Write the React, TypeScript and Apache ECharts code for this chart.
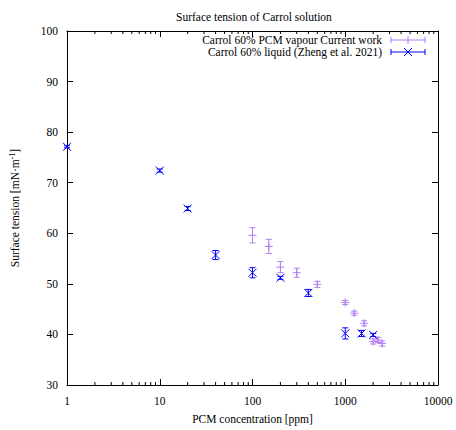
import React, { useEffect, useRef } from "react";
import * as echarts from "echarts";

const vapourX = [100, 150, 200, 300, 500, 1000, 1250, 1600, 2000, 2250, 2500];
const vapourY = [59.6, 57.4, 53.3, 52.2, 49.9, 46.3, 44.2, 42.2, 38.6, 38.9, 38.2];
const vapourErr = [1.5, 1.4, 1.1, 0.9, 0.6, 0.4, 0.4, 0.5, 0.5, 0.5, 0.5];

const liquidX = [1, 10, 20, 40, 100, 200, 400, 1000, 1500, 2000];
const liquidY = [77.1, 72.4, 64.9, 55.7, 52.2, 51.2, 48.2, 40.2, 40.2, 39.9];
const liquidErr = [0.2, 0.3, 0.4, 0.9, 1.0, 0.3, 0.7, 1.1, 0.6, 0.3];

const minorTicksX = [2, 3, 4, 5, 6, 7, 8, 9, 20, 30, 40, 50, 60, 70, 80, 90, 200, 300, 400, 500, 600, 700, 800, 900, 2000, 3000, 4000, 5000, 6000, 7000, 8000, 9000];

const seriesNames = ["Carrol 60% PCM vapour Current work", "Carrol 60% liquid (Zheng et al. 2021)"];
const titleText = "Surface tension of Carrol solution";
const xName = "PCM concentration [ppm]";

const PURPLE = "#b07cf8";
const BLUE = "#0000ff";
const FONT = "Liberation Serif";
const FS = 11.5;

function errRender(color: string, marker: "plus" | "cross") {
  return (params: any, api: any) => {
    const x = api.value(0);
    const y = api.value(1);
    const e = api.value(2);
    const c = api.coord([x, y]);
    const t = api.coord([x, y + e]);
    const b = api.coord([x, y - e]);
    const cap = 3;
    const s = 4;
    const style = { stroke: color, lineWidth: 1 };
    const children: any[] = [
      { type: "line", shape: { x1: c[0], y1: t[1], x2: c[0], y2: b[1] }, style },
      { type: "line", shape: { x1: c[0] - cap, y1: t[1], x2: c[0] + cap, y2: t[1] }, style },
      { type: "line", shape: { x1: c[0] - cap, y1: b[1], x2: c[0] + cap, y2: b[1] }, style },
    ];
    if (marker === "plus") {
      children.push({ type: "line", shape: { x1: c[0] - s, y1: c[1], x2: c[0] + s, y2: c[1] }, style });
      children.push({ type: "line", shape: { x1: c[0], y1: c[1] - s, x2: c[0], y2: c[1] + s }, style });
    } else {
      children.push({ type: "line", shape: { x1: c[0] - s, y1: c[1] - s, x2: c[0] + s, y2: c[1] + s }, style });
      children.push({ type: "line", shape: { x1: c[0] - s, y1: c[1] + s, x2: c[0] + s, y2: c[1] - s }, style });
    }
    return { type: "group", children };
  };
}

export default function App() {
  const ref = useRef<HTMLDivElement>(null);
  useEffect(() => {
    if (!ref.current) return;
    const chart = echarts.init(ref.current, null, { renderer: "svg" });
    const axisLabelStyle = { fontFamily: FONT, fontSize: FS, color: "#000" };
    const legendY = [40, 52];
    const legendColors = [PURPLE, BLUE];
    const graphic: any[] = [];
    seriesNames.forEach((name, i) => {
      const y = legendY[i];
      const col = legendColors[i];
      graphic.push({
        type: "text",
        x: 382,
        y,
        style: { text: name, fontFamily: FONT, fontSize: FS, fill: "#000", textAlign: "right", textVerticalAlign: "middle" },
      });
      graphic.push({ type: "line", shape: { x1: 391, y1: y, x2: 425, y2: y }, style: { stroke: col, lineWidth: 1 } });
      graphic.push({ type: "line", shape: { x1: 391, y1: y - 3, x2: 391, y2: y + 3 }, style: { stroke: col, lineWidth: 1 } });
      graphic.push({ type: "line", shape: { x1: 425, y1: y - 3, x2: 425, y2: y + 3 }, style: { stroke: col, lineWidth: 1 } });
      if (i === 0) {
        graphic.push({ type: "line", shape: { x1: 408, y1: y - 4, x2: 408, y2: y + 4 }, style: { stroke: col, lineWidth: 1 } });
      } else {
        graphic.push({ type: "line", shape: { x1: 404, y1: y - 4, x2: 412, y2: y + 4 }, style: { stroke: col, lineWidth: 1 } });
        graphic.push({ type: "line", shape: { x1: 404, y1: y + 4, x2: 412, y2: y - 4 }, style: { stroke: col, lineWidth: 1 } });
      }
    });

    chart.setOption({
      animation: false,
      backgroundColor: "#fff",
      title: {
        text: titleText,
        left: 171,
        top: 6,
        textStyle: { fontFamily: FONT, fontSize: FS, fontWeight: "normal", color: "#000" },
      },
      grid: { left: 66, right: 18, top: 31, bottom: 41 },
      xAxis: [
        {
          type: "log",
          logBase: 10,
          min: 1,
          max: 10000,
          name: xName,
          nameLocation: "middle",
          nameGap: 28,
          nameTextStyle: { fontFamily: FONT, fontSize: FS, color: "#000" },
          axisLine: { show: true, lineStyle: { color: "#000", width: 1 } },
          axisTick: { show: true, inside: true, length: 6, lineStyle: { color: "#000" } },
          axisLabel: { ...axisLabelStyle, margin: 10, formatter: (v: number) => String(Math.round(v)) },
          splitLine: { show: false },
        },
        {
          type: "log",
          logBase: 10,
          min: 1,
          max: 10000,
          position: "top",
          axisLine: { show: true, lineStyle: { color: "#000", width: 1 } },
          axisTick: { show: true, inside: true, length: 6, lineStyle: { color: "#000" } },
          axisLabel: { show: false },
          splitLine: { show: false },
        },
      ],
      yAxis: [
        {
          type: "value",
          min: 30,
          max: 100,
          interval: 10,
          name: "{a|Surface tension [mN·m}{s|-1}{a|]}",
          nameLocation: "middle",
          nameGap: 45,
          nameTextStyle: {
            fontFamily: FONT,
            fontSize: FS,
            color: "#000",
            rich: {
              a: { fontFamily: FONT, fontSize: FS, color: "#000" },
              s: { fontFamily: FONT, fontSize: 8, color: "#000", verticalAlign: "top", padding: [0, 0, 6, 0] },
            },
          },
          axisLine: { show: true, lineStyle: { color: "#000", width: 1 } },
          axisTick: { show: true, inside: true, length: 6, lineStyle: { color: "#000" } },
          axisLabel: { ...axisLabelStyle, margin: 9 },
          splitLine: { show: false },
        },
        {
          type: "value",
          min: 30,
          max: 100,
          interval: 10,
          position: "right",
          axisLine: { show: true, lineStyle: { color: "#000", width: 1 } },
          axisTick: { show: true, inside: true, length: 6, lineStyle: { color: "#000" } },
          axisLabel: { show: false },
          splitLine: { show: false },
        },
      ],
      graphic,
      series: [
        {
          type: "custom",
          name: "minor",
          silent: true,
          xAxisIndex: 0,
          yAxisIndex: 0,
          data: minorTicksX.map((v) => [v, 30]),
          renderItem: (params: any, api: any) => {
            const cs = params.coordSys;
            const p = api.coord([api.value(0), 30]);
            const style = { stroke: "#000", lineWidth: 1 };
            return {
              type: "group",
              children: [
                { type: "line", shape: { x1: p[0], y1: cs.y + cs.height, x2: p[0], y2: cs.y + cs.height - 3 }, style },
                { type: "line", shape: { x1: p[0], y1: cs.y, x2: p[0], y2: cs.y + 3 }, style },
              ],
            };
          },
        },
        {
          type: "custom",
          name: seriesNames[0],
          xAxisIndex: 0,
          yAxisIndex: 0,
          data: vapourX.map((x, i) => [x, vapourY[i], vapourErr[i]]),
          renderItem: errRender(PURPLE, "plus"),
          encode: { x: 0, y: 1 },
        },
        {
          type: "custom",
          name: seriesNames[1],
          xAxisIndex: 0,
          yAxisIndex: 0,
          data: liquidX.map((x, i) => [x, liquidY[i], liquidErr[i]]),
          renderItem: errRender(BLUE, "cross"),
          encode: { x: 0, y: 1 },
        },
      ],
    });
    return () => chart.dispose();
  }, []);
  return <div ref={ref} style={{ position: "fixed", left: 0, top: 0, width: 456, height: 430 }} />;
}
